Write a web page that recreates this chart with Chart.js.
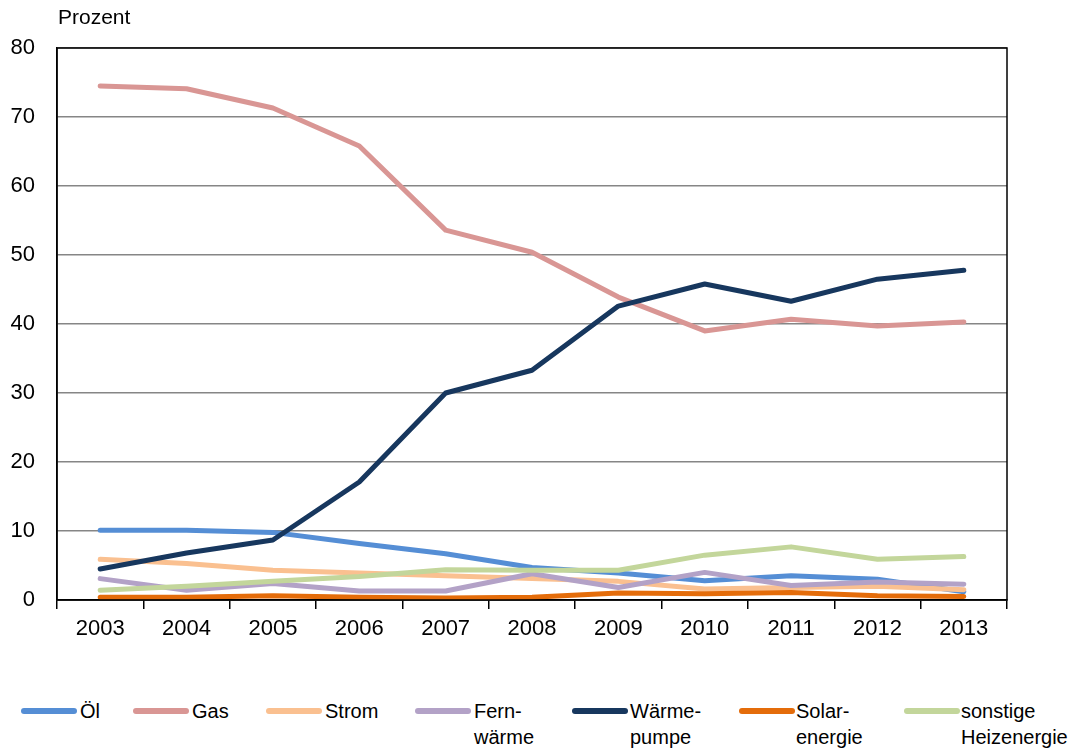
<!DOCTYPE html>
<html><head><meta charset="utf-8">
<script src="https://cdn.jsdelivr.net/npm/chart.js@4.4.1/dist/chart.umd.min.js"></script>
<style>
body{margin:0;background:#fff;font-family:"Liberation Sans",Arial,sans-serif;}
#wrap{position:relative;width:1082px;height:749px;}
#cv{position:absolute;left:0;top:0;}
#unit{position:absolute;left:58px;top:5px;font-size:21px;color:#000;}
.lg{position:absolute;top:698px;font-size:20px;line-height:26px;color:#000;}
.sw{position:absolute;top:708px;height:6px;width:56px;border-radius:3px;}
</style></head><body>
<div id="wrap">
<div id="cw" style="position:absolute;left:0;top:0;width:1082px;height:660px;"><canvas id="cv"></canvas></div>
<div id="unit">Prozent</div>
<div id="legend"></div>
</div>
<script>
const years = ["2003","2004","2005","2006","2007","2008","2009","2010","2011","2012","2013"];
const oel = [10.1,10.1,9.8,8.2,6.7,4.7,3.9,2.8,3.5,3.0,1.2];
const gas = [74.5,74.1,71.3,65.8,53.6,50.4,43.9,39.0,40.7,39.7,40.3];
const strom = [5.9,5.3,4.3,3.9,3.5,3.1,2.7,1.6,1.8,2.0,1.5];
const fernwaerme = [3.1,1.4,2.4,1.3,1.3,3.8,1.8,4.0,2.1,2.6,2.3];
const waermepumpe = [4.5,6.8,8.7,17.1,30.0,33.3,42.6,45.8,43.3,46.5,47.8];
const solar = [0.4,0.4,0.6,0.4,0.3,0.4,1.0,0.9,1.1,0.6,0.5];
const sonstige = [1.4,2.0,2.7,3.4,4.4,4.3,4.3,6.5,7.7,5.9,6.3];
const seriesNames = ["Öl","Gas","Strom","Fern-\nwärme","Wärme-\npumpe","Solar-\nenergie","sonstige\nHeizenergie"];
const colors = ["#558ED5","#D99694","#FAC090","#B3A2C7","#17375E","#E46C0A","#C3D69B"];
const allData = [oel,gas,strom,fernwaerme,waermepumpe,solar,sonstige];

const datasets = allData.map((d,i)=>({
  label: seriesNames[i].replace("\n"," "),
  data: d,
  borderColor: colors[i],
  backgroundColor: colors[i],
  borderWidth: 5,
  pointRadius: 0,
  tension: 0,
  fill: false,
  order: 10 - i,
  borderCapStyle: 'round',
  borderJoinStyle: 'round'
}));

const frame = {
  id:'frame',
  afterDraw(c){
    const a=c.chartArea, ctx=c.ctx;
    ctx.save();
    ctx.strokeStyle='#000';ctx.lineWidth=1.5;
    ctx.strokeRect(a.left,a.top,a.right-a.left,a.bottom-a.top);
    ctx.restore();
  }
};

Chart.defaults.font.family = '"Liberation Sans", Arial, sans-serif';
Chart.defaults.color = '#000';
new Chart(document.getElementById('cv'), {
  type:'line',
  data:{labels:years, datasets},
  options:{
    responsive:true, maintainAspectRatio:false, animation:false,
    layout:{padding:{top:48,right:75,left:0,bottom:0}},
    plugins:{legend:{display:false},tooltip:{enabled:false}},
    scales:{
      x:{
        offset:true,
        grid:{offset:true,drawOnChartArea:false,drawTicks:true,tickLength:9,color:'#000',lineWidth:1.5},
        border:{color:'#000',width:1.5},
        ticks:{font:{size:22},padding:7,color:'#000',maxRotation:0},
        afterFit(s){s.height=60;}
      },
      y:{
        min:0,max:80,
        ticks:{stepSize:10,font:{size:22},padding:22,color:'#000'},
        grid:{color:'#868686',lineWidth:1.5,drawTicks:false},
        border:{color:'#000',width:1.5},
        afterFit(s){s.width=57;}
      }
    }
  },
  plugins:[frame]
});

// HTML legend
const swX=[21,133,266,415,572,739,904];
const txX=[80,192,325,474,630,796,961];
const lg=document.getElementById('legend');
seriesNames.forEach((n,i)=>{
  const s=document.createElement('div');s.className='sw';s.style.left=swX[i]+'px';s.style.background=colors[i];lg.appendChild(s);
  const t=document.createElement('div');t.className='lg';t.style.left=txX[i]+'px';t.innerHTML=n.replace("\n","<br>");lg.appendChild(t);
});
</script>
</body></html>
